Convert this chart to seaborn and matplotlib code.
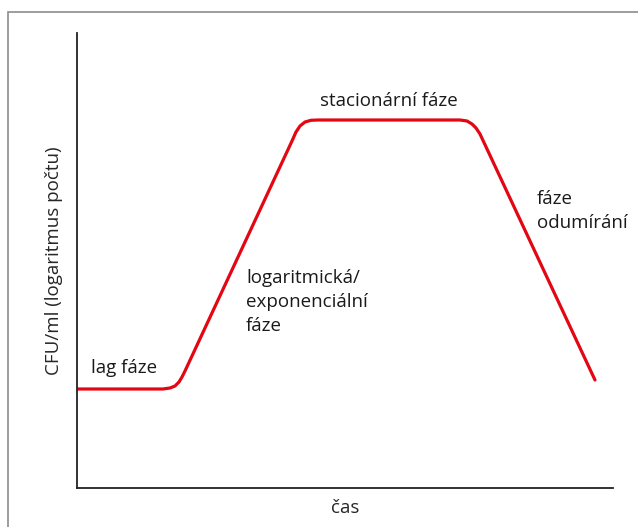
import pandas as pd
import matplotlib
matplotlib.use("Agg")
import matplotlib.pyplot as plt
import seaborn as sns
from matplotlib.patches import Rectangle

# growth curve shape (arbitrary units: time, log CFU), rounded corners included
time = [0, 86, 93, 98, 102, 105, 108, 215, 219, 223, 228, 234, 241, 383, 390, 395, 399, 403, 518]
log_cfu = [99, 99, 100, 102, 106, 111, 117, 347, 356, 362, 366, 367.7, 368, 368, 367, 364, 360, 354, 108]

phase_labels = ["lag fáze", "logaritmická/\nexponenciální\nfáze", "stacionární fáze", "fáze\nodumírání"]
phase_pos = [(14, 120), (169, 186), (312, 387), (460, 277)]

sns.set_style("white")
plt.rcParams["font.family"] = ["Open Sans", "DejaVu Sans"]

df = pd.DataFrame({"čas": time, "cfu": log_cfu})

fig = plt.figure(figsize=(6.38, 5.27), dpi=100)
ax = fig.add_axes([77 / 638, 39 / 527, 536 / 638, 455 / 527])

sns.lineplot(data=df, x="čas", y="cfu", sort=False, ax=ax, color="#e30613", linewidth=2.3)
ax.lines[0].set_solid_joinstyle("round")

ax.set_xlim(0, 536)
ax.set_ylim(0, 455)
ax.set_xticks([])
ax.set_yticks([])
sns.despine(ax=ax)
for s in ["left", "bottom"]:
    ax.spines[s].set_color("#222222")
    ax.spines[s].set_linewidth(1.3)

fs = 13.5
ax.set_xlabel("čas", fontsize=fs, labelpad=8)
ax.set_ylabel("CFU/ml (logaritmus počtu)", fontsize=fs, labelpad=10)

for i, lab in enumerate(phase_labels):
    x, y = phase_pos[i]
    ha = "center" if i == 2 else "left"
    ax.text(x, y, lab, fontsize=fs, ha=ha, va="center", linespacing=1.45, color="#1a1a1a")

# thin grey frame around the figure
fig.patches.append(Rectangle((8 / 638, -0.05), 1.0, 1 - 12 / 527 + 0.05, transform=fig.transFigure,
                             fill=False, edgecolor="#8c8c8c", linewidth=1.2))

fig.savefig("out.png", dpi=100)
